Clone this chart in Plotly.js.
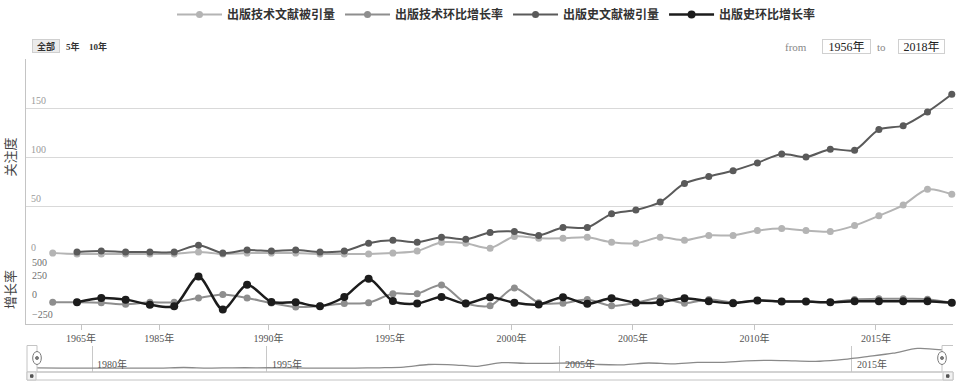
<!DOCTYPE html>
<html>
<head>
<meta charset="utf-8">
<script src="https://cdn.plot.ly/plotly-3.0.1.min.js"></script>
<style>
html,body{margin:0;padding:0;background:#fff;}
#chart{width:957px;height:385px;}
</style>
</head>
<body>
<div id="chart"></div>
<script>
// ---------------- data ----------------
const years = [1956,1959,1980,1982,1984,1986,1987,1988,1989,1990,1991,1992,1993,1994,1995,1996,1997,1998,1999,2000,2001,2002,2003,2004,2005,2006,2007,2008,2009,2010,2011,2012,2013,2014,2015,2016,2017,2018];
const seriesNames = ['出版技术文献被引量','出版技术环比增长率','出版史文献被引量','出版史环比增长率'];
const techCites  = [2,1,1,1,1,1,3,1,2,2,2,1,1,1,2,4,13,12,7,19,17,17,18,13,12,18,15,20,20,25,27,25,24,30,40,51,67,62];
const techGrowth = [0,0,-5,-25,0,0,55,100,55,-10,-60,-45,-15,-5,110,110,220,-10,-45,183,-5,-11,35,-44,-6,57,-11,35,0,23,10,10,0,35,44,44,40,-6];
const histCites  = [null,3,4,3,3,3,10,2,5,4,5,3,4,12,15,13,18,16,23,24,20,28,28,42,46,54,73,80,86,94,103,100,108,107,128,132,146,164];
const histGrowth = [null,0,55,34,-30,-50,328,-92,223,5,0,-50,67,300,16,-16,67,-16,64,-6,-28,64,-19,52,-6,1,52,14,-11,23,10,10,0,14,14,14,14,-6];
const tickYears = [1965,1985,1990,1995,2000,2005,2010,2015];
const navTickText = ['1980年','1995年','2005年','2015年'];
const navTickPos = [2.25,9.4,21.38,33.32];
const topTicks = [0,50,100,150,200];
const topTickText = ['0','50','100','150'];
const growthTicks = [-250,0,250,500];
const growthTickText = ['−250','0','250','500'];

// ---------------- helpers ----------------
const pos = years.map((_, i) => i);           // ordinal axis positions
const pointOffset = 0.12;                     // points stamped slightly after year start
function yearToPos(yr){
  for (let i = 0; i < years.length - 1; i++){
    if (yr >= years[i] && yr <= years[i+1]) return i + (yr - years[i])/(years[i+1]-years[i]) - pointOffset;
  }
  return years.length - 1;
}
const tickVals = tickYears.map(yearToPos);
const tickText = tickYears.map(y => y + '年');

const L = 26, W = 927, B = 380, H = 321;
const X = px => (px - L) / W;
const Y = py => (B - py) / H;

const serif = 'Liberation Serif, "Noto Sans CJK SC", serif';
const cjk = '"Noto Sans CJK SC", sans-serif';
const colors = ['#b4b4b4', '#8e8e8e', '#5a5a5a', '#1c1c1c'];

function trace(name, y, yaxis, color, width, msize){
  return {
    type:'scatter', mode:'lines+markers', name:name, x:pos, y:y,
    xaxis:'x', yaxis:yaxis,
    line:{color:color, width:width, shape:'spline', smoothing:0.8},
    marker:{color:color, size:msize},
    cliponaxis:false, hoverinfo:'skip'
  };
}

const data = [
  trace(seriesNames[0], techCites,  'y',  colors[0], 2, 7),
  trace(seriesNames[1], techGrowth, 'y2', colors[1], 2, 7),
  trace(seriesNames[2], histCites,  'y',  colors[2], 2, 7),
  trace(seriesNames[3], histGrowth, 'y2', colors[3], 2.5, 8),
  {
    type:'scatter', mode:'lines', x:pos, y:techCites, xaxis:'x2', yaxis:'y3',
    line:{color:'#8a8a8a', width:1.3, shape:'spline', smoothing:0.8},
    showlegend:false, hoverinfo:'skip'
  }
];

const gray = '#c4c4c4';
const shapes = [];
function line(x0,y0,x1,y1,color,w){
  shapes.push({type:'line', xref:'paper', yref:'paper', x0:X(x0), y0:Y(y0), x1:X(x1), y1:Y(y1), line:{color:color||gray, width:w||1}});
}
function rect(x0,y0,x1,y1,fill,lc){
  shapes.push({type:'rect', xref:'paper', yref:'paper', x0:X(x0), y0:Y(y0), x1:X(x1), y1:Y(y1), fillcolor:fill, line:{color:lc||gray, width:1}});
}
function oval(cx,cy,rx,ry,fill,lc){
  shapes.push({type:'circle', xref:'paper', yref:'paper', x0:X(cx-rx), y0:Y(cy+ry), x1:X(cx+rx), y1:Y(cy-ry), fillcolor:fill, line:{color:lc, width:1}});
}
// scrollbar
rect(27,372,953,380,'#ffffff');
rect(27,372,36,380,'#f2f2f2');
rect(943,372,953,380,'#f2f2f2');
rect(30.5,374.8,33,377.3,'#555','#555');
rect(946.5,374.8,949,377.3,'#555','#555');
// navigator outline
line(27,345.5,37,345.5);
line(27,345.5,27,372);
line(37,345.5,37,372);
line(37,372,942,372);
line(942,345.5,942,372);
line(942,345.5,953,345.5);
// handles
oval(37,358,4.3,6.5,'#ffffff','#777');
oval(37,358,1.5,1.5,'#777','#777');
oval(942,358,4.3,6.5,'#ffffff','#777');
oval(942,358,1.5,1.5,'#777','#777');

const annotations = [];
function txt(text, cx, cy, font, extra){
  annotations.push(Object.assign({text:text, xref:'paper', yref:'paper', x:X(cx), y:Y(cy), xanchor:'center', yanchor:'middle', showarrow:false, font:font}, extra||{}));
}
// range selector
txt('全部', 46, 46, {family:cjk, size:9, color:'#333', weight:'bold'}, {bgcolor:'#ebebeb', bordercolor:'#cfcfcf', borderwidth:1, borderpad:1, width:24, height:10});
txt('5年', 73, 46, {family:serif, size:9, color:'#333', weight:'bold'});
txt('10年', 98, 46, {family:serif, size:9, color:'#333', weight:'bold'});
// from / to
txt('from', 796, 47, {family:serif, size:11, color:'#888'});
txt('1956年', 846.5, 46, {family:serif, size:12, color:'#222'}, {bordercolor:'#d0d0d0', borderwidth:1, borderpad:1, width:45, height:11});
txt('to', 881.5, 47, {family:serif, size:11, color:'#888'});
txt('2018年', 921.5, 46, {family:serif, size:12, color:'#222'}, {bordercolor:'#d0d0d0', borderwidth:1, borderpad:1, width:43, height:11});
// y tick labels, drawn above their gridlines (Highstock style)
topTickText.forEach((t, i) => {
  annotations.push({text:t, xref:'paper', yref:'y', x:X(29), y:topTicks[i], xanchor:'left', yanchor:'middle', yshift:7.5, showarrow:false, font:{family:serif, size:10, color:'#9a9a9a'}});
});
const growthMax = Math.max(...growthTicks);
growthTickText.forEach((t, i) => {
  // the top label sits on its gridline so it does not collide with the upper panel's "0"
  const anchor = growthTicks[i] === growthMax ? 'middle' : 'bottom';
  annotations.push({text:t, xref:'paper', yref:'y2', x:X(30), y:growthTicks[i], xanchor:'left', yanchor:anchor, showarrow:false, font:{family:serif, size:10, color:'#6e6e6e'}});
});
// navigator labels
navTickText.forEach((t, i) => {
  annotations.push({text:t, xref:'x2', yref:'paper', x:navTickPos[i], y:Y(364), xanchor:'left', yanchor:'middle', xshift:3, showarrow:false, font:{family:serif, size:10, color:'#555'}});
});

const layout = {
  width:957, height:385,
  margin:{l:L, r:957-L-W, t:59, b:385-B},
  paper_bgcolor:'#ffffff', plot_bgcolor:'rgba(0,0,0,0)',
  showlegend:true,
  legend:{orientation:'h', xref:'container', yref:'container', x:172/957, xanchor:'left', y:1, yanchor:'top',
          font:{family:cjk, size:12, color:'#333', weight:'bold'},
          itemwidth:45, bgcolor:'rgba(0,0,0,0)', borderwidth:0},
  xaxis:{domain:[0,1], anchor:'y2', range:[-1.099,37.05], tickmode:'array', tickvals:tickVals, ticktext:tickText,
         ticks:'outside', ticklen:5, tickcolor:gray, showline:true, linecolor:gray, showgrid:false, zeroline:false,
         tickfont:{family:serif, size:10, color:'#555'}, fixedrange:true},
  yaxis:{domain:[Y(255),1], anchor:'x', range:[0,200], tickmode:'array', tickvals:topTicks,
         showticklabels:false, showgrid:true, gridcolor:'#d9d9d9', gridwidth:1, showline:true, linecolor:gray, zeroline:false, ticks:'',
         automargin:false,
         title:{text:'关注度', font:{family:cjk, size:13, color:'#444'}, standoff:6}},
  yaxis2:{domain:[Y(324),Y(255)], anchor:'x', range:[-275,600], tickmode:'array', tickvals:growthTicks,
          showticklabels:false, showgrid:false, showline:true, linecolor:gray, zeroline:false, ticks:'',
          automargin:false,
          title:{text:'增长率', font:{family:cjk, size:13, color:'#444'}, standoff:6}},
  xaxis2:{domain:[0,1], anchor:'y3', range:[-0.45,37.45], tickmode:'array', tickvals:navTickPos,
          showticklabels:false, showgrid:true, gridcolor:'#c8c8c8', zeroline:false, showline:false, ticks:'', fixedrange:true},
  yaxis3:{domain:[Y(372),Y(345.5)], anchor:'x2', range:[-12.2,76.9], visible:false, fixedrange:true},
  shapes:shapes,
  annotations:annotations
};

Plotly.newPlot('chart', data, layout, {displayModeBar:false, staticPlot:true});
</script>
</body>
</html>
